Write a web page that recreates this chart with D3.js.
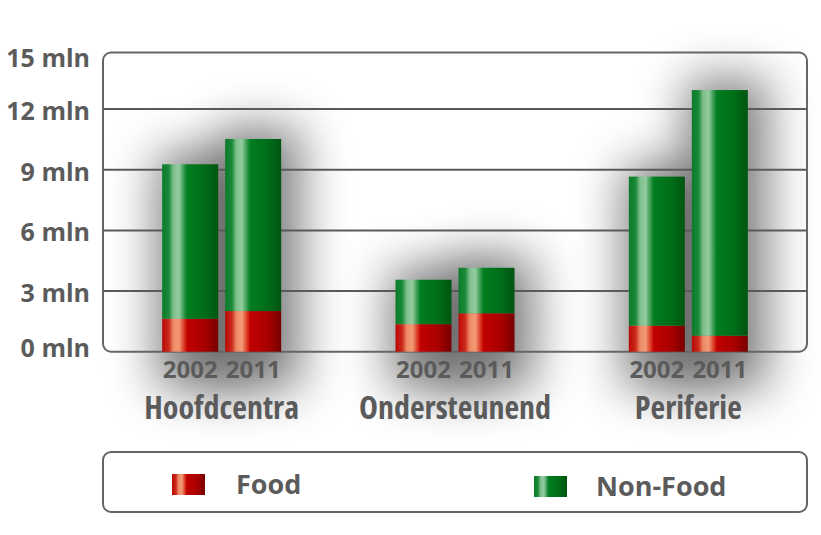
<!DOCTYPE html>
<html><head><meta charset="utf-8">
<script src="https://cdn.jsdelivr.net/npm/d3@7"></script>
<style>html,body{margin:0;padding:0;background:#fff;}svg{display:block;font-family:"Open Sans",sans-serif;font-weight:700;}</style>
</head><body>
<svg id="c" width="821" height="535"></svg>
<script>
const categories = ["Hoofdcentra", "Ondersteunend", "Periferie"];
const years = ["2002", "2011"];
const seriesNames = ["Food", "Non-Food"];
// values in mln, per category: [2002, 2011]
const food    = [[1.63, 2.01], [1.36, 1.90], [1.29, 0.79]];
const nonFood = [[7.64, 8.51], [2.20, 2.25], [7.37, 12.15]];
const yTicks = [0, 3, 6, 9, 12, 15];

const svg = d3.select("#c");
const defs = svg.append("defs");
const textCol = "#5b5b5b";

function grad(id, stops) {
  const g = defs.append("linearGradient").attr("id", id).attr("x1", "0").attr("x2", "1").attr("y1", "0").attr("y2", "0");
  stops.forEach(s => g.append("stop").attr("offset", s[0]).attr("stop-color", s[1]));
}
grad("gGreen", [[0, "#0b7a2a"], [0.12, "#1a8a38"], [0.2, "#7fbf8c"], [0.3, "#93cba0"], [0.4, "#2a9445"], [0.45, "#007d1f"], [0.75, "#006e18"], [1, "#005510"]]);
grad("gRed", [[0, "#b80808"], [0.12, "#cc2a1a"], [0.2, "#ee8a66"], [0.3, "#f29a75"], [0.4, "#d8301e"], [0.45, "#c00000"], [0.75, "#aa0000"], [1, "#780000"]]);

const f = defs.append("filter").attr("id", "shadow").attr("x", "-200%").attr("y", "-100%").attr("width", "500%").attr("height", "300%");
f.append("feGaussianBlur").attr("stdDeviation", 24);

const frame = {x0: 103, x1: 807, top: 52.5};
const y = d3.scaleLinear().domain([0, 15]).range([351.7, 48.4]);
const x0 = d3.scaleBand().domain(categories).range([105, 805]);
const x1 = d3.scaleBand().domain(years).range([-59.5, 59.5]).paddingInner(0.111);

const rows = [];
categories.forEach((c, ci) => years.forEach((yr, yi) => {
  rows.push({cat: c, year: yr, food: food[ci][yi], nonFood: nonFood[ci][yi]});
}));
const bx = d => x0(d.cat) + x0.bandwidth() / 2 + x1(d.year);

// soft shadows
svg.append("g").selectAll("rect").data(rows).join("rect")
  .attr("x", d => bx(d) - 6)
  .attr("y", d => y(d.food + d.nonFood) - 12)
  .attr("width", x1.bandwidth() + 26)
  .attr("height", d => y(0) - y(d.food + d.nonFood) + 50)
  .attr("fill", "#000").attr("opacity", 0.5)
  .attr("filter", "url(#shadow)");

// gridlines
svg.append("g").selectAll("line").data(yTicks.filter(t => t > 0 && t < 15)).join("line")
  .attr("x1", frame.x0).attr("x2", frame.x1)
  .attr("y1", d => y(d)).attr("y2", d => y(d))
  .attr("stroke", "#5a5a5a").attr("stroke-width", 2);

// frame
svg.append("rect").attr("x", frame.x0).attr("y", frame.top)
  .attr("width", frame.x1 - frame.x0).attr("height", y(0) - frame.top)
  .attr("rx", 8).attr("fill", "none").attr("stroke", "#666").attr("stroke-width", 2);

// bars
const bars = svg.append("g");
bars.selectAll("rect.food").data(rows).join("rect").attr("class", "food")
  .attr("x", bx).attr("width", x1.bandwidth())
  .attr("y", d => y(d.food)).attr("height", d => y(0) - y(d.food))
  .attr("fill", "url(#gRed)");
bars.selectAll("rect.nf").data(rows).join("rect").attr("class", "nf")
  .attr("x", bx).attr("width", x1.bandwidth())
  .attr("y", d => y(d.food + d.nonFood)).attr("height", d => y(d.food) - y(d.food + d.nonFood))
  .attr("fill", "url(#gGreen)");

// y axis
const yAxis = svg.append("g").attr("transform", `translate(${frame.x0},0)`)
  .call(d3.axisLeft(y).tickValues(yTicks).tickFormat(d => d + " mln").tickSize(0).tickPadding(13));
yAxis.select(".domain").remove();
yAxis.selectAll("text").attr("font-size", 25).attr("font-family", "'Open Sans',sans-serif")
  .attr("font-weight", 700).attr("fill", textCol)
  .attr("dy", d => d === 15 ? "0.72em" : d === 0 ? "0.2em" : "0.42em");

// year labels
svg.append("g").selectAll("text").data(rows).join("text")
  .attr("x", d => bx(d) + x1.bandwidth() / 2)
  .attr("y", 377.5)
  .attr("text-anchor", "middle").attr("font-size", 24).attr("fill", textCol)
  .text(d => d.year);

// category labels (condensed)
svg.append("g").selectAll("text").data(categories).join("text")
  .attr("x", d => x0(d) + x0.bandwidth() / 2)
  .attr("y", 419)
  .attr("text-anchor", "middle").attr("font-size", 32).style("font-stretch", "87.5%").attr("fill", textCol)
  .text(d => d);

// legend
svg.append("rect").attr("x", 103).attr("y", 452).attr("width", 704).attr("height", 60)
  .attr("rx", 8).attr("fill", "#fff").attr("stroke", "#666").attr("stroke-width", 2);
const legX = d3.scaleOrdinal().domain(seriesNames).range([172, 534]);
const legFill = d3.scaleOrdinal().domain(seriesNames).range(["url(#gRed)", "url(#gGreen)"]);
const leg = svg.append("g").selectAll("g").data(seriesNames).join("g")
  .attr("transform", (d, i) => `translate(${legX(d)},${i === 0 ? 474 : 476})`);
leg.append("rect").attr("width", 33).attr("height", 21).attr("fill", d => legFill(d));
leg.append("text").attr("x", d => d === "Food" ? 64 : 62).attr("y", 20)
  .attr("font-size", 27).attr("fill", textCol).text(d => d);
</script>
</body></html>
